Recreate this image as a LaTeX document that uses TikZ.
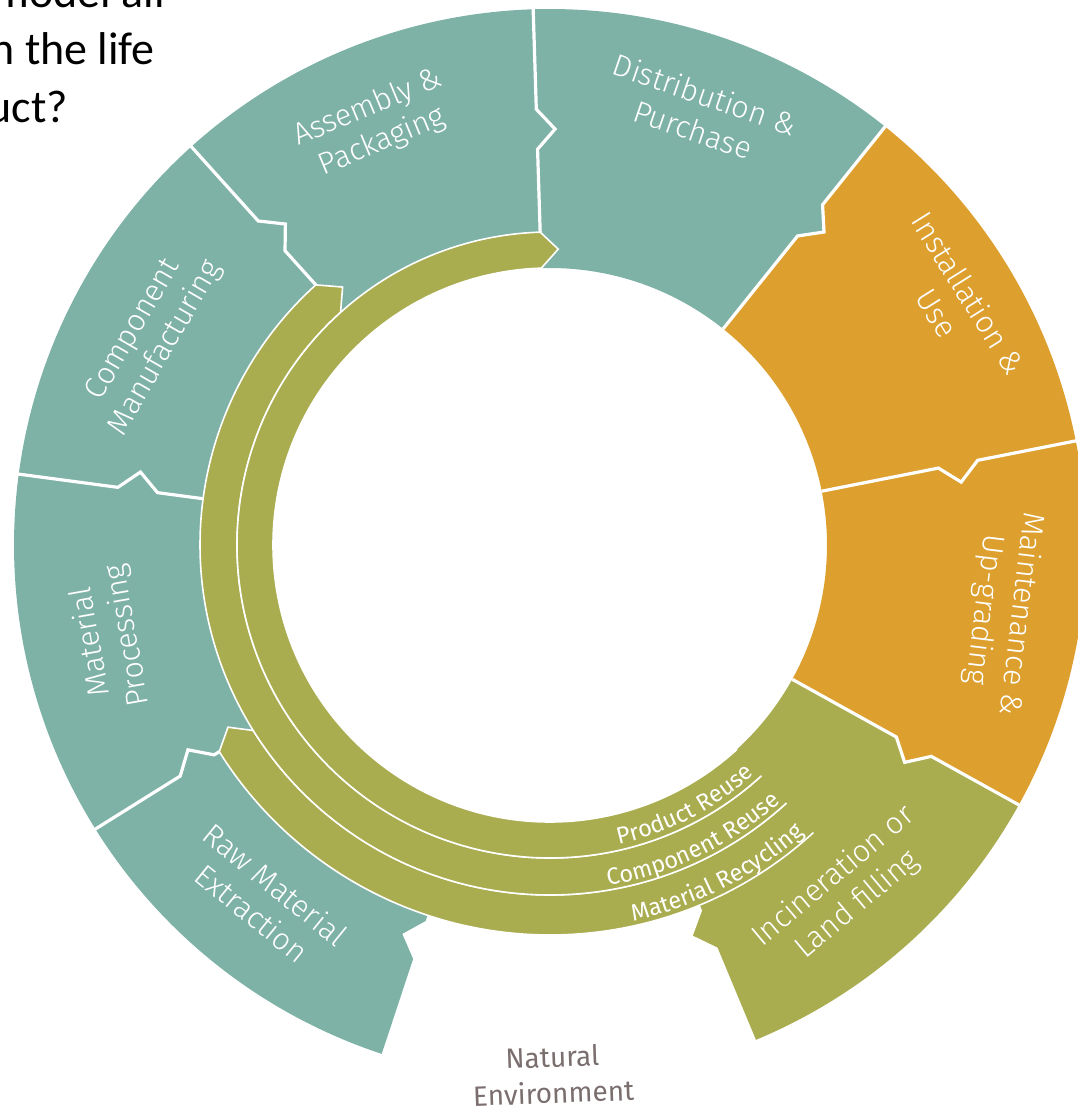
\documentclass[tikz,border=0pt]{standalone}
\usepackage{fontspec}
\setmainfont{Fira Sans}
\newfontfamily\lab{Fira Sans Light}
\newfontfamily\slide{Carlito}
\usetikzlibrary{decorations.text}
\definecolor{teal1}{HTML}{7EB2A6}
\definecolor{olive1}{HTML}{A9AC4F}
\definecolor{orange1}{HTML}{DD9F2E}
\definecolor{envgray}{HTML}{7A6E6E}
% segment between start angle #1 (larger) and end angle #2 (smaller)
\newcommand\segpath[2]{(#1:536) arc[start angle=#1, end angle=#2, radius=536]
 -- (#2:436) -- ({#2-2.5}:416) -- (#2:396) -- (#2:277)
 arc[start angle=#2, end angle=#1, radius=277]
 -- (#1:396) -- ({#1-2.5}:416) -- (#1:436) -- cycle}
\newcommand\bndpath[1]{(#1:539) -- (#1:436) -- ({#1-2.5}:416) -- (#1:396) -- (#1:277)}
% band: #1 rin, #2 rout, #3 end angle, #4 tip angle, #5 tip radius
\newcommand\bandpath[5]{(-47.5:#2) arc[start angle=-47.5, end angle=#3, radius=#2]
 -- (#4:#5) -- (#3:#1) arc[start angle=#3, end angle=-47.5, radius=#1]}
\newcommand\bandfont{\fontsize{23.5}{23.5}\selectfont}
\begin{document}
\begin{tikzpicture}[x=1pt,y=1pt,
  lbl/.style={font=\lab\fontsize{30.5}{37}\selectfont, text=white, align=center, inner sep=0pt},
  bnd/.style={white, line width=3.2pt, line join=miter},
  bandline/.style={white, line width=1.6pt, line join=miter},
  slidetext/.style={font=\slide\fontsize{46}{46}\selectfont, text=black, anchor=base east, inner sep=0pt}]
\useasboundingbox (-550,-569) rectangle (528,545);
\clip (-550,-569) rectangle (528,545);
% stage segments
\fill[teal1] \segpath{251.7}{212};
\fill[teal1] \segpath{212}{172.4};
\fill[teal1] \segpath{172.4}{132};
\fill[teal1] \segpath{132}{91.8};
\fill[teal1] \segpath{91.8}{51.3};
\fill[orange1] \segpath{51.3}{11.2};
\fill[orange1] \segpath{11.2}{-29};
\fill[olive1] \segpath{-29}{-67.4};
% boundaries
\draw[bnd] \bndpath{212};
\draw[bnd] \bndpath{172.4};
\draw[bnd] \bndpath{132};
\draw[bnd] \bndpath{91.8};
\draw[bnd] \bndpath{51.3};
\draw[bnd] \bndpath{11.2};
\draw[bnd] \bndpath{-29};
% recycling bands
\fill[olive1] \bandpath{350}{390}{-148}{-150.5}{370} -- cycle;
\draw[bandline] \bandpath{350}{390}{-148}{-150.5}{370};
\fill[olive1] \bandpath{313}{350}{-228}{-231.2}{331} -- cycle;
\draw[bandline] \bandpath{313}{350}{-228}{-231.2}{331};
\fill[olive1] \bandpath{277}{313}{-268.2}{-271.6}{296} -- cycle;
\draw[bandline] \bandpath{277}{313}{-268.2}{-271.6}{296};
% band labels
\path[decorate, decoration={text along path, text={|\bandfont|Product Reuse}, text align=right, text color=white}]
  (-125:307.5) arc[start angle=-125, end angle=-48.3, radius=307.5];
\path[decorate, decoration={text along path, text={|\bandfont|Component Reuse}, text align=right, text color=white}]
  (-125:345.5) arc[start angle=-125, end angle=-48.1, radius=345.5];
\path[decorate, decoration={text along path, text={|\bandfont|Material Recycling}, text align=right, text color=white}]
  (-125:385) arc[start angle=-125, end angle=-48.6, radius=385];
% stage labels
\node[lbl, rotate=-39] (raw) at (231:455) {Raw Material\\Extraction};
\node[lbl, rotate=100] (proc) at (192:450) {Material\\Processing};
\node[lbl, rotate=60] (comp) at (152.8:450) {Component\\Manufacturing};
\node[lbl, rotate=22.6] (asm) at (112.6:455) {Assembly \&\\Packaging};
\node[lbl, rotate=-19] (dist) at (71:458) {Distribution \&\\Purchase};
\node[lbl, rotate=-58] (inst) at (31:470) {Installation \&\\Use};
\node[lbl, rotate=-97] (maint) at (-8.4:457) {Maintenance \&\\Up-grading};
\node[lbl, rotate=40] (inc) at (-49.5:455) {Incineration or\\Land filling};
% natural environment
\node[font=\fontsize{28}{36}\selectfont, text=envgray, align=center, inner sep=0pt, rotate=2] (env) at (3,-530) {Natural\\Environment};
% slide text
\node[slidetext] (q1) at (-385,537) {model all};
\node[slidetext] (q2) at (-395,480) {n the life};
\node[slidetext] (q3) at (-482,422) {uct?};
\end{tikzpicture}
\end{document}
